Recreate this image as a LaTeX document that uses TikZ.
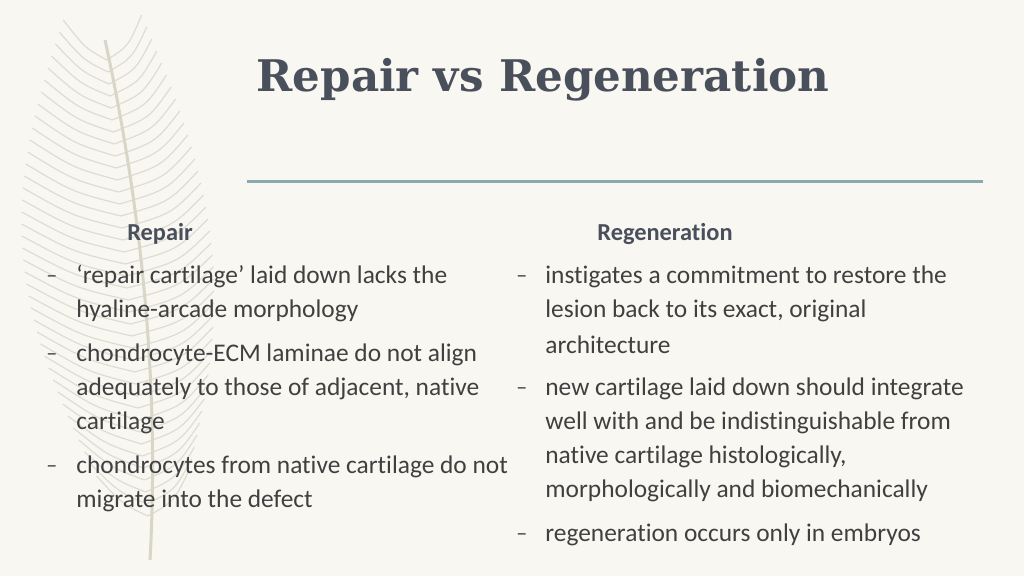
\documentclass[tikz,border=0pt]{standalone}
\usepackage{fontspec}
\setmainfont[Ligatures=NoCommon]{Carlito}
\newfontfamily\titlefont{DejaVu Serif}
\definecolor{paper}{HTML}{F8F7F2}
\definecolor{ink}{HTML}{404040}
\definecolor{slate}{HTML}{4A4F5C}
\definecolor{rule}{HTML}{8AAAAE}
\definecolor{quill}{HTML}{D9D6C8}
\tikzset{
  line/.style={anchor=west, inner sep=0pt, font=\fontsize{12.7}{15}\selectfont, text=ink},
  head/.style={inner sep=0pt, font=\fontsize{12.2}{15}\selectfont\bfseries, text=slate},
  bulletmark/.style={anchor=west, inner sep=0pt, font=\fontsize{11}{13}\selectfont, text=ink}
}
\begin{document}
\begin{tikzpicture}[x=0.5pt, y=-0.5pt]
        % Background
        \fill[paper] (0,0) rectangle (1024,576);
        \useasboundingbox (0,0) rectangle (1024,576);

        % Feather
        \draw[quill, line width=1.5pt] (150,560) .. controls (160,380) and (140,200) .. (105,40);
        \foreach \y in {60,72,...,520} {
            \pgfmathsetmacro{\sx}{105+(\y-40)*0.09}
            \pgfmathsetmacro{\w}{35+70*sin((\y-40)*0.35)}
            \draw[quill, line width=0.6pt, opacity=0.8] (\sx,\y) .. controls (\sx-\w*0.5,\y-12) .. (\sx-\w,\y-40);
            \draw[quill, line width=0.6pt, opacity=0.8] (\sx,\y) .. controls (\sx+\w*0.5,\y-14) .. (\sx+\w*0.8,\y-45);
        }

        % Title
        \node (title) [inner sep=0pt, text=slate, font=\fontsize{21.8}{26}\titlefont\bfseries] at (543,80) {Repair vs Regeneration};
        \draw[rule, line width=1.5pt] (247,182) -- (983,182);

        % Repair
        \node (repair) [head] at (160,234) {Repair};
        \node (d1) [bulletmark] at (46,279) {–};
        \node (r1a) [line] at (76,277) {‘repair cartilage’ laid down lacks the};
        \node (r1b) [line] at (76,311) {hyaline-arcade morphology};
        \node (d2) [bulletmark] at (46,357) {–};
        \node (r2a) [line] at (76,355) {chondrocyte-ECM laminae do not align};
        \node (r2b) [line] at (76,389) {adequately to those of adjacent, native};
        \node (r2c) [line] at (76,423) {cartilage};
        \node (d3) [bulletmark] at (46,469) {–};
        \node (r3a) [line] at (76,467) {chondrocytes from native cartilage do not};
        \node (r3b) [line] at (76,501) {migrate into the defect};

        % Regeneration
        \node (regen) [head] at (665,234) {Regeneration};
        \node (e1) [bulletmark] at (516,279) {–};
        \node (g1a) [line] at (545,277) {instigates a commitment to restore the};
        \node (g1b) [line] at (545,311) {lesion back to its exact, original};
        \node (g1c) [line] at (545,345) {architecture};
        \node (e2) [bulletmark] at (516,391) {–};
        \node (g2a) [line] at (545,389) {new cartilage laid down should integrate};
        \node (g2b) [line] at (545,423) {well with and be indistinguishable from};
        \node (g2c) [line] at (545,457) {native cartilage histologically,};
        \node (g2d) [line] at (545,491) {morphologically and biomechanically};
        \node (e3) [bulletmark] at (516,537) {–};
        \node (g3a) [line] at (545,535) {regeneration occurs only in embryos};
\end{tikzpicture}
\end{document}
